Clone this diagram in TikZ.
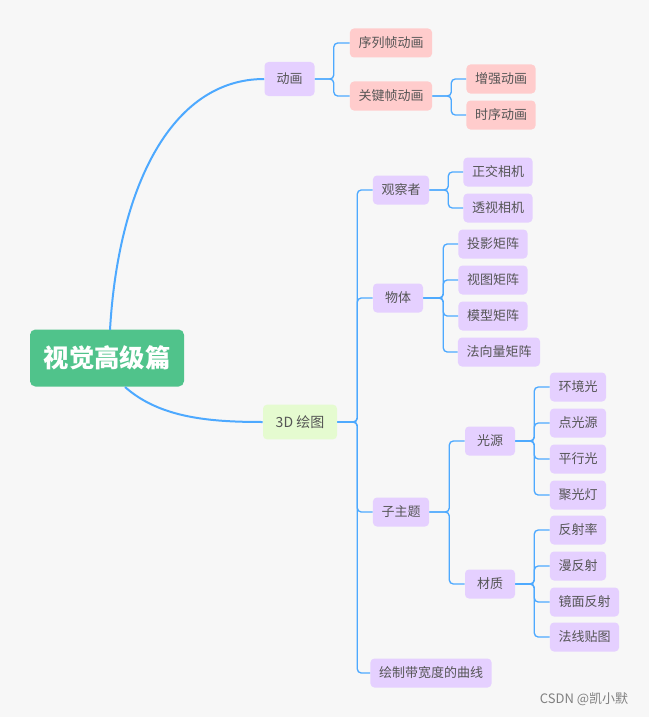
\documentclass[tikz,border=0pt]{standalone}
\usepackage{fontspec}
\setmainfont{Noto Sans CJK SC}
\definecolor{bgcol}{HTML}{F7F7F7}
\definecolor{rootcol}{HTML}{50C38B}
\definecolor{greencol}{HTML}{E5FBD0}
\definecolor{purplecol}{HTML}{E5D0FF}
\definecolor{pinkcol}{HTML}{FFCCCC}
\definecolor{linecol}{HTML}{4DA9FF}
\definecolor{textcol}{HTML}{555555}
\begin{document}
\begin{tikzpicture}[
			x=0.75pt, y=-0.75pt,
			% Define styles for nodes
			topic/.style={rectangle, rounded corners=3pt, text=textcol, font=\fontsize{9.75pt}{11pt}\selectfont,
					minimum height=21.75pt, minimum width=37.5pt, inner xsep=6.4pt, inner ysep=0pt},
			purple/.style={topic, fill=purplecol},
			pink/.style={topic, fill=pinkcol},
			root/.style={rectangle, rounded corners=4pt, fill=rootcol, text=white,
					font=\fontsize{19pt}{22pt}\selectfont\bfseries, minimum width=115.5pt, minimum height=42.75pt},
			main/.style={topic, fill=greencol, minimum height=26pt, minimum width=55.5pt, font=\fontsize{10.5pt}{12pt}\selectfont},
			% Define styles for connectors
			curve/.style={draw=linecol, line width=1.5pt},
			branch/.style={draw=linecol, line width=1pt, rounded corners=3pt}
		]
		\useasboundingbox[fill=bgcol] (0,0) rectangle (649,717);

		% Root node
		\node[root] (root) at (107,358) {视觉高级篇};

		% First level
		\node[purple, minimum height=25.5pt] (anim) at (289.5,79) {动画};
		\node[main] (draw3d) at (300,422) {3D 绘图};

		\draw[curve] (110,330) .. controls (118,190) and (170,79) .. (anim.west);
		\draw[curve] (125,387) .. controls (160,418) and (210,422) .. (draw3d.west);

		% Animation branch
		\node[pink] (seqanim) at (391,43) {序列帧动画};
		\node[pink] (keyanim) at (391,96) {关键帧动画};
		\node[pink] (enhanim) at (501,79) {增强动画};
		\node[pink] (timeanim) at (501,115) {时序动画};

		\foreach \c in {seqanim,keyanim}
			\draw[branch] (anim.east) -- ++(19,0) |- (\c.west);
		\foreach \c in {enhanim,timeanim}
			\draw[branch] (keyanim.east) -- ++(19,0) |- (\c.west);

		% 3D branch
		\node[purple] (viewer) at (401,190) {观察者};
		\node[purple] (object) at (398,298) {物体};
		\node[purple] (subtopic) at (401,512) {子主题};
		\node[purple] (curveline) at (431,673) {绘制带宽度的曲线};

		\foreach \c in {viewer,object,subtopic,curveline}
			\draw[branch] (draw3d.east) -- ++(20,0) |- (\c.west);

		% Viewer
		\node[purple] (ortho) at (498,172) {正交相机};
		\node[purple] (persp) at (498,208) {透视相机};
		\foreach \c in {ortho,persp}
			\draw[branch] (viewer.east) -- ++(19,0) |- (\c.west);

		% Object
		\node[purple] (projmat) at (493,244) {投影矩阵};
		\node[purple] (viewmat) at (493,280) {视图矩阵};
		\node[purple] (modelmat) at (493,316) {模型矩阵};
		\node[purple] (normmat) at (499,352) {法向量矩阵};
		\foreach \c in {projmat,viewmat,modelmat,normmat}
			\draw[branch] (object.east) -- ++(20,0) |- (\c.west);

		% Sub topic
		\node[purple] (light) at (490,441) {光源};
		\node[purple] (material) at (490,584) {材质};
		\foreach \c in {light,material}
			\draw[branch] (subtopic.east) -- ++(20,0) |- (\c.west);

		\node[purple] (ambient) at (578,387) {环境光};
		\node[purple] (pointlt) at (578,423) {点光源};
		\node[purple] (parallel) at (578,459) {平行光};
		\node[purple] (spot) at (578,495) {聚光灯};
		\foreach \c in {ambient,pointlt,parallel,spot}
			\draw[branch] (light.east) -- ++(19,0) |- (\c.west);

		\node[purple] (reflect) at (578,530) {反射率};
		\node[purple] (diffuse) at (578,566) {漫反射};
		\node[purple] (specular) at (584.5,602) {镜面反射};
		\node[purple] (normmap) at (584.5,637) {法线贴图};
		\foreach \c in {reflect,diffuse,specular,normmap}
			\draw[branch] (material.east) -- ++(19,0) |- (\c.west);

		% Watermark
		\node[text=gray, font=\fontsize{9.75pt}{11pt}\selectfont] (mark) at (584,699) {CSDN @凯小默};
	\end{tikzpicture}
\end{document}
